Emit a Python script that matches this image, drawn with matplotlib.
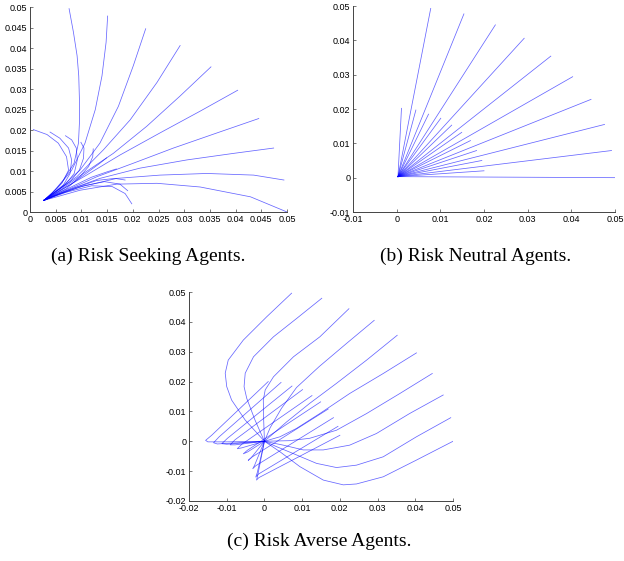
import matplotlib
matplotlib.use("Agg")
import matplotlib.pyplot as plt
import numpy as np

# (a) risk seeking: trajectories, each ends near (0.0027, 0.00285)
seek_x = [
    [0.0076, 0.00844, 0.00916, 0.00948, 0.00961, 0.00961, 0.00942, 0.00857, 0.00649, 0.00422, 0.0027],
    [0.0151, 0.0148, 0.0140, 0.0127, 0.0107, 0.0081, 0.0052, 0.0027],
    [0.0225, 0.0201, 0.0172, 0.0136, 0.0097, 0.0058, 0.0027],
    [0.0292, 0.0247, 0.0195, 0.0143, 0.0091, 0.0052, 0.0027],
    [0.0352, 0.0292, 0.0227, 0.0162, 0.0104, 0.0058, 0.0027],
    [0.0404, 0.0331, 0.0253, 0.0175, 0.0110, 0.0058, 0.0027],
    [0.0445, 0.0364, 0.0279, 0.0201, 0.0130, 0.0071, 0.0027],
    [0.0474, 0.0396, 0.0305, 0.0214, 0.0136, 0.0071, 0.0027],
    [0.0494, 0.0435, 0.0344, 0.0253, 0.0169, 0.0097, 0.0052, 0.0027],
    [0.0500, 0.0429, 0.0331, 0.0247, 0.0169, 0.0097, 0.0052, 0.0027],
    [0.00065, 0.0033, 0.0055, 0.0071, 0.0075, 0.0062, 0.0042, 0.0027],
    [0.0039, 0.0058, 0.0075, 0.0081, 0.0078, 0.0065, 0.0027],
    [0.0069, 0.0081, 0.0090, 0.0092, 0.0086, 0.0068, 0.0027],
    [0.0099, 0.0105, 0.0104, 0.0096, 0.0078, 0.0027],
    [0.0123, 0.0122, 0.0114, 0.0097, 0.0071, 0.0027],
    [0.0149, 0.0135, 0.0110, 0.0080, 0.0050, 0.0027],
    [0.0168, 0.0150, 0.0120, 0.0085, 0.0052, 0.0027],
    [0.0185, 0.0165, 0.0130, 0.0090, 0.0052, 0.0027],
    [0.0190, 0.0175, 0.0145, 0.0105, 0.0060, 0.0027],
    [0.0198, 0.0185, 0.0160, 0.0120, 0.0070, 0.0027],
]
seek_y = [
    [0.0496, 0.0439, 0.0381, 0.0332, 0.0275, 0.0217, 0.0168, 0.0119, 0.0078, 0.0045, 0.00285],
    [0.0478, 0.0414, 0.0332, 0.0250, 0.0168, 0.0102, 0.0057, 0.00285],
    [0.0447, 0.0357, 0.0258, 0.0168, 0.0102, 0.0057, 0.00285],
    [0.0406, 0.0316, 0.0225, 0.0152, 0.0086, 0.0052, 0.00285],
    [0.0354, 0.0283, 0.0209, 0.0143, 0.0094, 0.0053, 0.00285],
    [0.0297, 0.0246, 0.0193, 0.0139, 0.0090, 0.0052, 0.00285],
    [0.0228, 0.0193, 0.0156, 0.0119, 0.0086, 0.0053, 0.00285],
    [0.0156, 0.0143, 0.0127, 0.0107, 0.0082, 0.0052, 0.00285],
    [0.0078, 0.0090, 0.0094, 0.0090, 0.0082, 0.0061, 0.0041, 0.00285],
    [0.0000, 0.0037, 0.0061, 0.0070, 0.0068, 0.0053, 0.0037, 0.00285],
    [0.0201, 0.0189, 0.0168, 0.0135, 0.0102, 0.0070, 0.0045, 0.00285],
    [0.0195, 0.0180, 0.0156, 0.0127, 0.0094, 0.0066, 0.00285],
    [0.0186, 0.0176, 0.0156, 0.0127, 0.0094, 0.0066, 0.00285],
    [0.0170, 0.0156, 0.0131, 0.0102, 0.0074, 0.00285],
    [0.0154, 0.0135, 0.0111, 0.0086, 0.0057, 0.00285],
    [0.0132, 0.0118, 0.0095, 0.0068, 0.0045, 0.00285],
    [0.0105, 0.0098, 0.0085, 0.0064, 0.0044, 0.00285],
    [0.0078, 0.0082, 0.0077, 0.0060, 0.0042, 0.00285],
    [0.0052, 0.0068, 0.0074, 0.0064, 0.0045, 0.00285],
    [0.0020, 0.0045, 0.0062, 0.0064, 0.0048, 0.00285],
]

# (b) risk neutral: straight lines from the start point to these ends
neutral_start = (0.0003, 0.0003)
neutral_end_x = [0.0078, 0.0154, 0.0226, 0.0292, 0.0353, 0.0403, 0.0445, 0.0476, 0.0492, 0.0500,
                 0.0011, 0.0044, 0.0073, 0.0101, 0.0126, 0.0149, 0.0169, 0.0183, 0.0195, 0.0200]
neutral_end_y = [0.0493, 0.0477, 0.0445, 0.0406, 0.0354, 0.0294, 0.0228, 0.0155, 0.0079, 0.0000,
                 0.0202, 0.0197, 0.0185, 0.0173, 0.0153, 0.0132, 0.0108, 0.0079, 0.0050, 0.0020]

# (c) risk averse
averse_x = [
    [0.0072, 0.0006, -0.0056, -0.0096, -0.0104, -0.0100, -0.0087, -0.0051, 0.0],
    [0.0152, 0.0086, 0.0024, -0.0029, -0.0051, -0.0054, -0.0047, -0.0025, 0.0],
    [0.0224, 0.0147, 0.0077, 0.0024, 0.0002, -0.0003, -0.0002, 0.0],
    [0.0291, 0.0217, 0.0145, 0.0085, 0.0045, 0.0015, 0.0],
    [0.0352, 0.0271, 0.0191, 0.0120, 0.0059, 0.0],
    [0.0403, 0.0315, 0.0226, 0.0147, 0.0085, 0.0041, 0.0],
    [0.0445, 0.0359, 0.0271, 0.0191, 0.0120, 0.0067, 0.0],
    [0.0474, 0.0385, 0.0297, 0.0226, 0.0156, 0.0103, 0.0050, 0.0],
    [0.0494, 0.0403, 0.0315, 0.0244, 0.0191, 0.0138, 0.0076, 0.0032, 0.0],
    [0.0500, 0.0403, 0.0315, 0.0244, 0.0209, 0.0156, 0.0094, 0.0041, 0.0],
    [0.0010, -0.0140, -0.0156, -0.0150, -0.0100, 0.0],
    [0.0044, -0.0120, -0.0135, -0.0125, 0.0],
    [0.0073, -0.0098, -0.0113, -0.0100, 0.0],
    [0.0101, -0.0078, -0.0091, -0.0078, 0.0],
    [0.0126, -0.0060, -0.0072, -0.0060, 0.0],
    [0.0149, -0.0045, -0.0056, -0.0045, 0.0],
    [0.0169, -0.0033, -0.0043, -0.0035, 0.0],
    [0.0183, -0.0023, -0.0031, -0.0026, 0.0],
    [0.0195, -0.0016, -0.0023, -0.0019, 0.0],
    [0.0200, -0.0015, -0.0021, -0.0018, 0.0],
]
averse_y = [
    [0.0496, 0.0417, 0.0339, 0.0272, 0.0228, 0.0183, 0.0138, 0.0071, 0.0],
    [0.0479, 0.0412, 0.0350, 0.0283, 0.0228, 0.0183, 0.0144, 0.0071, 0.0],
    [0.0444, 0.0350, 0.0283, 0.0216, 0.0172, 0.0138, 0.0070, 0.0],
    [0.0405, 0.0327, 0.0250, 0.0180, 0.0110, 0.0045, 0.0],
    [0.0355, 0.0272, 0.0194, 0.0127, 0.0065, 0.0],
    [0.0296, 0.0227, 0.0160, 0.0093, 0.0043, 0.0015, 0.0],
    [0.0227, 0.0160, 0.0093, 0.0037, 0.0010, 0.0002, 0.0],
    [0.0155, 0.0093, 0.0026, -0.0013, -0.0029, -0.0029, -0.0013, 0.0],
    [0.0079, 0.0015, -0.0052, -0.0080, -0.0088, -0.0074, -0.0041, -0.0018, 0.0],
    [0.0000, -0.0063, -0.0119, -0.0143, -0.0146, -0.0130, -0.0085, -0.0035, 0.0],
    [0.0200, 0.0020, 0.0003, -0.0002, -0.0002, 0.0],
    [0.0197, 0.0015, -0.0005, -0.0009, 0.0],
    [0.0185, 0.0010, -0.0008, -0.0010, 0.0],
    [0.0173, 0.0005, -0.0012, -0.0012, 0.0],
    [0.0153, -0.0010, -0.0025, -0.0022, 0.0],
    [0.0132, -0.0030, -0.0042, -0.0036, 0.0],
    [0.0108, -0.0053, -0.0064, -0.0055, 0.0],
    [0.0079, -0.0082, -0.0092, -0.0080, 0.0],
    [0.0050, -0.0110, -0.0120, -0.0105, 0.0],
    [0.0020, -0.0122, -0.0130, -0.0115, 0.0],
]

captions = ["(a) Risk Seeking Agents.", "(b) Risk Neutral Agents.", "(c) Risk Averse Agents."]

LINE = dict(color="#0000ff", lw=0.55, alpha=0.6)
plt.rcParams["font.family"] = ["Liberation Sans", "DejaVu Sans"]


def style_axes(ax, lim_x, lim_y, step):
    ax.set_xlim(*lim_x)
    ax.set_ylim(*lim_y)
    ax.set_xticks(np.arange(lim_x[0], lim_x[1] + step / 2, step))
    ax.set_yticks(np.arange(lim_y[0], lim_y[1] + step / 2, step))
    fmt = lambda v, p: "%g" % round(v, 4)
    ax.xaxis.set_major_formatter(plt.FuncFormatter(fmt))
    ax.yaxis.set_major_formatter(plt.FuncFormatter(fmt))
    for s in ("top", "right"):
        ax.spines[s].set_visible(False)
    for s in ("left", "bottom"):
        ax.spines[s].set_color("#444444")
        ax.spines[s].set_linewidth(0.7)
    ax.tick_params(direction="in", length=2.5, width=0.5, labelsize=6.5,
                   colors="#444444", labelcolor="black", pad=2)
    ax.patch.set_alpha(0)


fig = plt.figure(figsize=(6.24, 5.61), dpi=100)

ax_a = fig.add_axes([0.0481, 0.6221, 0.4119, 0.3654])
for xs, ys in zip(seek_x, seek_y):
    ax_a.plot(xs, ys, **LINE)
style_axes(ax_a, (0, 0.05), (0, 0.05), 0.005)

ax_b = fig.add_axes([0.5657, 0.6221, 0.4199, 0.3672])
for ex, ey in zip(neutral_end_x, neutral_end_y):
    ax_b.plot([neutral_start[0], ex], [neutral_start[1], ey], **LINE)
style_axes(ax_b, (-0.01, 0.05), (-0.01, 0.05), 0.01)

ax_c = fig.add_axes([0.3029, 0.1070, 0.4231, 0.3725])
for xs, ys in zip(averse_x, averse_y):
    ax_c.plot(xs, ys, **LINE)
style_axes(ax_c, (-0.02, 0.05), (-0.02, 0.05), 0.01)

serif = ["Liberation Serif", "DejaVu Serif"]
fig.text(148 / 624, 1 - 256 / 561, captions[0], ha="center", va="center", fontsize=14, family=serif)
fig.text(476 / 624, 1 - 256 / 561, captions[1], ha="center", va="center", fontsize=14, family=serif)
fig.text(319 / 624, 1 - 541 / 561, captions[2], ha="center", va="center", fontsize=14, family=serif)

fig.savefig("out.png", dpi=100)
